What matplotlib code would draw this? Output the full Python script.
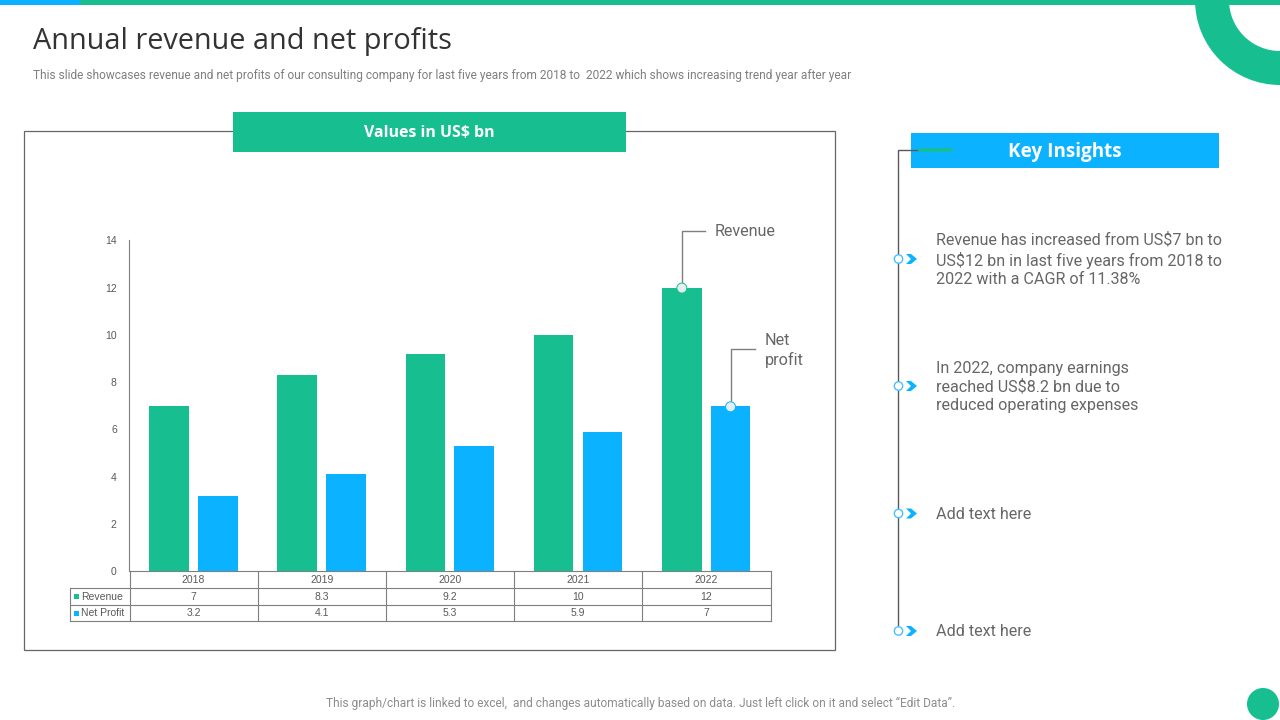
import numpy as np
import matplotlib
matplotlib.use("Agg")
import matplotlib.pyplot as plt
from matplotlib.patches import Rectangle, Wedge, Circle, Polygon

years = ["2018", "2019", "2020", "2021", "2022"]
revenue = [7, 8.3, 9.2, 10, 12]
net_profit = [3.2, 4.1, 5.3, 5.9, 7]
y_ticks = [0, 2, 4, 6, 8, 10, 12, 14]
revenue_labels = ["7", "8.3", "9.2", "10", "12"]
profit_labels = ["3.2", "4.1", "5.3", "5.9", "7"]

insights = [
    "Revenue has increased from US$7 bn to\nUS$12 bn in last five years from 2018 to\n2022 with a CAGR of 11.38%",
    "In 2022, company earnings\nreached US$8.2 bn due to\nreduced operating expenses",
    "Add text here",
    "Add text here",
]
insight_y = [259, 386, 513.5, 631]

GREEN = "#17BF90"
BLUE = "#0BB2FF"
GREY = "#666666"
LINE = "#7F7F7F"

fig = plt.figure(figsize=(12.8, 7.2), dpi=100, facecolor="white")

# slide layer in pixel coordinates
bg = fig.add_axes([0, 0, 1, 1])
bg.set_xlim(0, 1280)
bg.set_ylim(720, 0)
bg.axis("off")

bg.add_patch(Wedge((1280, 0), 85, 90, 180, width=34, color=GREEN, lw=0))
bg.add_patch(Rectangle((0, 0), 1280, 5, color=GREEN, lw=0))
bg.add_patch(Rectangle((0, 0), 80, 5, color=BLUE, lw=0))
bg.add_patch(Circle((1263, 704), 16, color=GREEN, lw=0))

bg.text(33, 41.5, "Annual revenue and net profits", fontsize=20.8, family="Open Sans",
        color="#333333", va="center", ha="left")
bg.text(33, 75, "This slide showcases revenue and net profits of our consulting company for last five years from 2018 to  2022 which shows increasing trend year after year",
        fontsize=8.6, family="Roboto", color="#7F7F7F", va="center", ha="left")
bg.text(641, 703, "This graph/chart is linked to excel,  and changes automatically based on data. Just left click on it and select \u201cEdit Data\u201d.",
        fontsize=8.6, family="Roboto", color="#8C8C8C", va="center", ha="center")

# chart frame and headers
bg.add_patch(Rectangle((24, 131), 810.5, 518.5, fc="white", ec=GREY, lw=0.9))
bg.add_patch(Rectangle((233, 112), 393, 40, color=GREEN, lw=0))
bg.text(429, 132.5, "Values in US$ bn", fontsize=11.4, family="Open Sans", weight="bold",
        color="white", ha="center", va="center")
bg.add_patch(Rectangle((911, 133), 308, 35, color=BLUE, lw=0))
bg.text(1065, 151.5, "Key Insights", fontsize=13.6, family="Open Sans", weight="bold",
        color="white", ha="center", va="center")

# insights timeline
bg.plot([920, 898, 898], [150, 150, 631], color="#595959", lw=1, solid_joinstyle="miter")
bg.plot([920, 951], [150, 150], color=GREEN, lw=2.6)
for y, txt in zip(insight_y, insights):
    bg.add_patch(Circle((898.5, y), 4.2, fc="white", ec="#45C3FF", lw=1, zorder=4))
    bg.add_patch(Polygon([(906, y - 5), (911, y - 5), (917, y), (911, y + 5), (906, y + 5), (911, y)],
                         color=BLUE, lw=0, zorder=4))
    bg.text(936, y + 0.7, txt, fontsize=11.6, family="Roboto", color=GREY, ha="left", va="center",
            linespacing=1.27)

# bar chart
ax = fig.add_axes([129.3 / 1280, (720 - 571.3) / 720, 641 / 1280, 331 / 720])
ax.patch.set_alpha(0)
x = np.arange(len(years))
bar_w = 0.308
offset = 0.19
ax.bar(x - offset, revenue, bar_w, color=GREEN)
ax.bar(x + offset, net_profit, bar_w, color=BLUE)
ax.set_xlim(-0.5, 4.5)
ax.set_ylim(0, 14)
ax.set_yticks(y_ticks)
ax.set_xticks([])
ax.tick_params(axis="y", length=0, pad=9, labelsize=7.5, labelcolor="#595959")
for lab in ax.get_yticklabels():
    lab.set_family("Liberation Sans")
for s in ["top", "right", "bottom"]:
    ax.spines[s].set_visible(False)
ax.spines["left"].set_color(LINE)
ax.spines["left"].set_linewidth(0.8)

# data table under the chart
col_w = 641 / len(years)
left = 129.5
rows_y = [571, 588, 604.5, 621]
tkw = dict(fontsize=7.5, family="Liberation Sans", color="#595959", ha="center", va="center")
bg.plot([left, left + 641], [rows_y[0], rows_y[0]], color=LINE, lw=0.8)
for yy in rows_y[1:]:
    bg.plot([70, left + 641], [yy, yy], color=LINE, lw=0.8)
bg.plot([70, 70], [rows_y[1], rows_y[3]], color=LINE, lw=0.8)
for i in range(len(years) + 1):
    bg.plot([left + i * col_w] * 2, [rows_y[0], rows_y[3]], color=LINE, lw=0.8)
for i in range(len(years)):
    cx = left + (i + 0.5) * col_w
    bg.text(cx, 580, years[i], **tkw)
    bg.text(cx, 597, revenue_labels[i], **tkw)
    bg.text(cx, 613.5, profit_labels[i], **tkw)
for yy, name, col in [(596.5, "Revenue", GREEN), (613, "Net Profit", BLUE)]:
    bg.add_patch(Rectangle((74, yy - 2.5), 5, 5, color=col, lw=0))
    bg.text(81, yy, name, fontsize=7.5, family="Liberation Sans", color="#595959", ha="left", va="center")

# callouts, anchored on the last bars
def to_px(xv, yv):
    px, py = ax.transData.transform((xv, yv))
    return bg.transData.inverted().transform((px, py))

rx, ry = to_px(4 - offset, revenue[-1])
px_, py_ = to_px(4 + offset, net_profit[-1])
top = fig.add_axes([0, 0, 1, 1])
top.set_xlim(0, 1280)
top.set_ylim(720, 0)
top.axis("off")
top.plot([rx, rx, 705], [ry, 230.5, 230.5], color=LINE, lw=1)
top.plot([px_, px_, 755], [py_, 348.5, 348.5], color=LINE, lw=1)
top.add_patch(Circle((rx, ry + 0.5), 5, fc="#E3EFEC", ec=GREEN, lw=0.7, zorder=4))
top.add_patch(Circle((px_, py_ + 1), 5, fc="#E3EFF5", ec=BLUE, lw=0.7, zorder=4))
top.text(715, 232, "Revenue", fontsize=11.6, family="Roboto", color=GREY, ha="left", va="center")
top.text(765, 350.5, "Net\nprofit", fontsize=11.6, family="Roboto", color=GREY, ha="left", va="center",
         linespacing=1.27)

fig.savefig("out.png", dpi=100)
